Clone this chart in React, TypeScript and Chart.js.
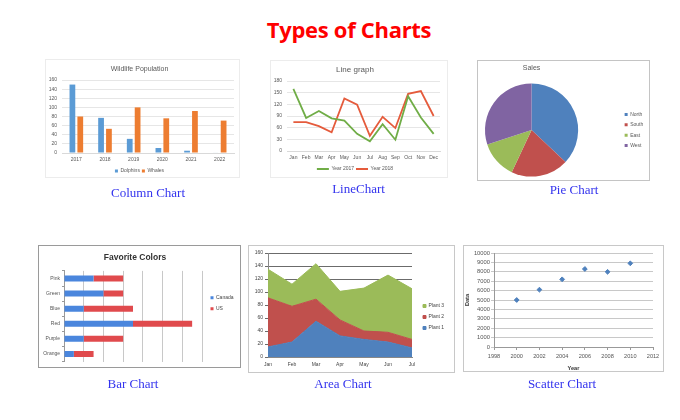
import React, { useEffect, useRef } from "react";
import { Chart, registerables } from "chart.js";

Chart.register(...registerables);

const SANS = "'Liberation Sans', Arial, sans-serif";
Chart.defaults.font.family = SANS;
Chart.defaults.color = "#595959";

// ---------- Data ----------
const columnYears = ["2017", "2018", "2019", "2020", "2021", "2022"];
const dolphins = [150, 77, 31, 11, 5, 1];
const whales = [80, 53, 100, 76, 92, 71];

const months12 = ["Jan", "Feb", "Mar", "Apr", "May", "Jun", "Jul", "Aug", "Sep", "Oct", "Nov", "Dec"];
const year2017 = [160, 85, 103, 84, 78, 44, 25, 69, 29, 141, 86, 44];
const year2018 = [74, 74, 64, 48, 135, 119, 39, 88, 59, 147, 154, 90];

const regions = ["North", "South", "East", "West"];
const sales = [37, 20, 13, 30];

const colorNames = ["Pink", "Green", "Blue", "Red", "Purple", "Orange"];
const canada = [1.5, 2, 1, 3.5, 1, 0.5];
const us = [1.5, 1, 2.5, 3, 2, 1];

const months7 = ["Jan", "Feb", "Mar", "Apr", "May", "Jun", "Jul"];
const plant1 = [15.5, 23, 55, 32.5, 27, 23, 14];
const plant2 = [75.5, 55, 34, 24.5, 13, 15, 13];
const plant3 = [44, 34, 54.5, 44, 66, 88, 78];

const scatterYears = [2000, 2002, 2004, 2006, 2008, 2010];
const scatterValues = [5000, 6100, 7200, 8300, 8000, 8900];

// ---------- helpers ----------
const legendShift = {
  id: "legendShift",
  afterLayout(chart: any, _args: any, opts: any) {
    const lg = chart.legend;
    if (!lg) return;
    const dx = (opts && opts.dx) || 0;
    const dy = (opts && opts.dy) || 0;
    lg.left += dx;
    lg.right += dx;
    lg.top += dy;
    lg.bottom += dy;
  },
};

const f = (size: number, weight: any = "normal", family = SANS) => ({ size, weight, family });

function ChartPanel({ box, border, config }: any) {
  const ref = useRef<HTMLCanvasElement>(null);
  useEffect(() => {
    const c = new Chart(ref.current as HTMLCanvasElement, config);
    return () => c.destroy();
  }, []);
  return (
    <div style={{ position: "absolute", left: box[0], top: box[1], width: box[2], height: box[3] }}>
      <canvas ref={ref} width={box[2]} height={box[3]} style={{ display: "block" }} />
      <div
        style={{
          position: "absolute",
          left: 0,
          top: 0,
          right: 0,
          bottom: 0,
          border: `1px solid ${border}`,
          pointerEvents: "none",
        }}
      />
    </div>
  );
}

function Caption({ text, cx, cy }: any) {
  return (
    <div
      style={{
        position: "absolute",
        left: cx,
        top: cy - 6.5,
        transform: "translateX(-50%)",
        fontFamily: "'Liberation Serif', 'Times New Roman', serif",
        fontSize: 13,
        lineHeight: "13px",
        color: "#3333ee",
        whiteSpace: "nowrap",
      }}
    >
      {text}
    </div>
  );
}

// ---------- configs ----------
const columnConfig: any = {
  type: "bar",
  data: {
    labels: columnYears,
    datasets: [
      { label: "Dolphins", data: dolphins, backgroundColor: "#5b9bd5", categoryPercentage: 0.55, barPercentage: 0.73 },
      { label: "Whales", data: whales, backgroundColor: "#ed7d31", categoryPercentage: 0.55, barPercentage: 0.73 },
    ],
  },
  options: {
    responsive: false,
    animation: false,
    layout: { padding: { left: 0, right: 6, top: 0, bottom: 0 } },
    plugins: {
      title: { display: true, text: "Wildlife Population", color: "#595959", font: f(7), padding: { top: 5.8, bottom: 6.8 } },
      legend: {
        position: "bottom",
        maxHeight: 11.5,
        labels: { font: f(5), boxWidth: 3, boxHeight: 3, padding: 2, color: "#595959" },
      },
      tooltip: { enabled: false },
    },
    scales: {
      x: {
        grid: { display: false, drawTicks: false },
        border: { color: "#d9d9d9" },
        ticks: { font: f(5), color: "#595959", padding: 4, maxRotation: 0, autoSkip: false },
        afterFit: (s: any) => { s.height = 13.5; },
      },
      y: {
        min: 0,
        max: 160,
        ticks: { stepSize: 20, font: f(5), color: "#595959", padding: 5, autoSkip: false },
        grid: { color: "#e6e6e6", drawTicks: false },
        border: { display: false },
        afterFit: (s: any) => { s.width = 17; },
      },
    },
  },
};

const lineConfig: any = {
  type: "line",
  data: {
    labels: months12,
    datasets: [
      { label: "Year 2017", data: year2017, borderColor: "#70ad47", backgroundColor: "#70ad47", borderWidth: 1.8, pointRadius: 0, tension: 0 },
      { label: "Year 2018", data: year2018, borderColor: "#e55b3c", backgroundColor: "#e55b3c", borderWidth: 1.8, pointRadius: 0, tension: 0 },
    ],
  },
  options: {
    responsive: false,
    animation: false,
    layout: { padding: { left: 0, right: 8, top: 0, bottom: 0 } },
    plugins: {
      title: { display: true, text: "Line graph", color: "#595959", font: f(8), padding: { top: 5.2, bottom: 6.2 } },
      legend: {
        position: "bottom",
        maxHeight: 13.5,
        labels: { font: f(5), usePointStyle: true, pointStyle: "line", pointStyleWidth: 12, padding: 2, color: "#595959" },
      },
      tooltip: { enabled: false },
    },
    scales: {
      x: {
        offset: true,
        grid: { display: false, drawTicks: false },
        border: { color: "#d9d9d9" },
        ticks: { font: f(5), color: "#595959", padding: 4, maxRotation: 0, minRotation: 0, autoSkip: false },
        afterFit: (s: any) => { s.height = 13.5; },
      },
      y: {
        min: 0,
        max: 180,
        ticks: { stepSize: 30, font: f(5), color: "#595959", padding: 5, autoSkip: false },
        grid: { color: "#e6e6e6", drawTicks: false },
        border: { display: false },
        afterFit: (s: any) => { s.width = 17; },
      },
    },
  },
};

const pieConfig: any = {
  type: "pie",
  data: {
    labels: regions,
    datasets: [
      { data: sales, backgroundColor: ["#4f81bd", "#c0504d", "#9bbb59", "#8064a2"], borderWidth: 0 },
    ],
  },
  plugins: [legendShift],
  options: {
    responsive: false,
    animation: false,
    layout: { padding: { left: 8, right: 38, top: 0, bottom: 4 } },
    plugins: {
      title: {
        display: true,
        fullSize: false,
        text: "Sales",
        color: "#595959",
        font: f(7),
        padding: { top: 3.8, bottom: 10.8 },
      },
      legend: {
        position: "right",
        labels: { font: f(5), boxWidth: 3, boxHeight: 3, padding: 5.3, color: "#595959" },
      },
      legendShift: { dx: 41.2, dy: 11.5 },
      tooltip: { enabled: false },
    },
  },
};

const barConfig: any = {
  type: "bar",
  data: {
    labels: colorNames,
    datasets: [
      { label: "Canada", data: canada, backgroundColor: "#4a86dd", categoryPercentage: 0.8, barPercentage: 0.5 },
      { label: "US", data: us, backgroundColor: "#e04a4d", categoryPercentage: 0.8, barPercentage: 0.5 },
    ],
  },
  plugins: [legendShift],
  options: {
    indexAxis: "y",
    responsive: false,
    animation: false,
    layout: { padding: { left: 0, right: 9, top: 0, bottom: 6.5 } },
    plugins: {
      title: { display: true, text: "Favorite Colors", color: "#333333", font: f(8.5, "bold"), padding: { top: 7.6, bottom: 8.1 } },
      legend: {
        position: "right",
        maxWidth: 30,
        labels: { font: f(5), boxWidth: 3, boxHeight: 3, padding: 6, color: "#444444" },
      },
      legendShift: { dx: 2.5 },
      tooltip: { enabled: false },
    },
    scales: {
      x: {
        stacked: true,
        min: 0,
        max: 7,
        ticks: { display: false, stepSize: 1 },
        grid: { color: "#c8c8c8", drawTicks: false },
        border: { display: false },
      },
      y: {
        stacked: true,
        grid: { drawOnChartArea: false, offset: true, tickLength: 2, color: "#999999" },
        border: { color: "#999999" },
        ticks: { font: f(5), color: "#555555", padding: 2, autoSkip: false },
        afterFit: (s: any) => { s.width = 26; },
      },
    },
  },
};

const areaConfig: any = {
  type: "line",
  data: {
    labels: months7,
    datasets: [
      { label: "Plant 1", data: plant1, fill: "origin", backgroundColor: "#4f81bd", borderColor: "#4f81bd", borderWidth: 1, pointRadius: 0 },
      { label: "Plant 2", data: plant2, fill: "-1", backgroundColor: "#c0504d", borderColor: "#c0504d", borderWidth: 1, pointRadius: 0 },
      { label: "Plant 3", data: plant3, fill: "-1", backgroundColor: "#9bbb59", borderColor: "#9bbb59", borderWidth: 1, pointRadius: 0 },
    ],
  },
  plugins: [legendShift],
  options: {
    responsive: false,
    animation: false,
    layout: { padding: { left: 0, right: 13, top: 8, bottom: 0 } },
    plugins: {
      legend: {
        position: "right",
        reverse: true,
        maxWidth: 30,
        labels: { font: f(5), boxWidth: 3, boxHeight: 3, padding: 6, color: "#444444" },
      },
      legendShift: { dx: 5, dy: 4 },
      tooltip: { enabled: false },
    },
    scales: {
      x: {
        grid: { display: false, drawTicks: false },
        border: { color: "#888888" },
        ticks: { font: f(5), color: "#444444", padding: 5, maxRotation: 0, autoSkip: false },
        afterFit: (s: any) => { s.height = 16; },
      },
      y: {
        stacked: true,
        min: 0,
        max: 160,
        ticks: { stepSize: 20, font: f(5), color: "#444444", padding: 2, autoSkip: false },
        grid: { color: "#6b6b6b", tickLength: 3 },
        border: { color: "#888888" },
        afterFit: (s: any) => { s.width = 20; },
      },
    },
  },
};

const scatterConfig: any = {
  type: "scatter",
  data: {
    datasets: [
      {
        label: "Data",
        data: scatterYears.map((x, i) => ({ x, y: scatterValues[i] })),
        pointStyle: "rectRot",
        pointRadius: 2.4,
        backgroundColor: "#4f81bd",
        borderColor: "#4f81bd",
      },
    ],
  },
  options: {
    responsive: false,
    animation: false,
    layout: { padding: { left: 0, right: 11, top: 8, bottom: 0 } },
    plugins: { legend: { display: false }, tooltip: { enabled: false } },
    scales: {
      x: {
        type: "linear",
        min: 1998,
        max: 2012,
        ticks: { stepSize: 2, font: f(5.6), color: "#555555", padding: 3, maxRotation: 0, autoSkip: false, callback: (v: any) => String(v) },
        grid: { drawOnChartArea: false, tickLength: 3, color: "#999999" },
        border: { color: "#999999" },
        title: { display: true, text: "Year", font: f(5.6, "bold"), color: "#333333", padding: { top: 1.5, bottom: 0 } },
        afterFit: (s: any) => { s.height = 25; },
      },
      y: {
        min: 0,
        max: 10000,
        ticks: { stepSize: 1000, font: f(5.8), color: "#555555", padding: 1, autoSkip: false, callback: (v: any) => String(v) },
        grid: { color: "#c8c8c8", tickLength: 3 },
        border: { color: "#999999" },
        title: { display: true, text: "Data", font: f(5.6, "bold"), color: "#333333", padding: { top: 1.5, bottom: 0 } },
        afterFit: (s: any) => { s.width = 31; },
      },
    },
  },
};

export default function App() {
  return (
    <div style={{ position: "fixed", left: 0, top: 0, width: 680, height: 420, background: "#ffffff", overflow: "hidden" }}>
      <div
        style={{
          position: "absolute",
          left: 349,
          top: 17.5,
          transform: "translateX(-50%)",
          fontFamily: "'Open Sans', sans-serif",
          fontWeight: 700,
          fontSize: 22,
          lineHeight: "22px",
          letterSpacing: -0.3,
          color: "#ff0000",
          whiteSpace: "nowrap",
        }}
      >
        Types of Charts
      </div>

      <ChartPanel box={[45, 59, 195, 119]} border="#ececec" config={columnConfig} />
      <ChartPanel box={[270, 60, 178, 118]} border="#ececec" config={lineConfig} />
      <ChartPanel box={[477, 60, 173, 121]} border="#c4c4c4" config={pieConfig} />
      <ChartPanel box={[38, 245, 203, 123]} border="#9a9a9a" config={barConfig} />
      <ChartPanel box={[248, 245, 207, 128]} border="#c8c8c8" config={areaConfig} />
      <ChartPanel box={[463, 245, 201, 127]} border="#c8c8c8" config={scatterConfig} />

      <Caption text="Column Chart" cx={148} cy={192} />
      <Caption text="LineChart" cx={358.5} cy={188} />
      <Caption text="Pie Chart" cx={574} cy={189} />
      <Caption text="Bar Chart" cx={133} cy={383} />
      <Caption text="Area Chart" cx={343} cy={383} />
      <Caption text="Scatter Chart" cx={562} cy={383} />
    </div>
  );
}
